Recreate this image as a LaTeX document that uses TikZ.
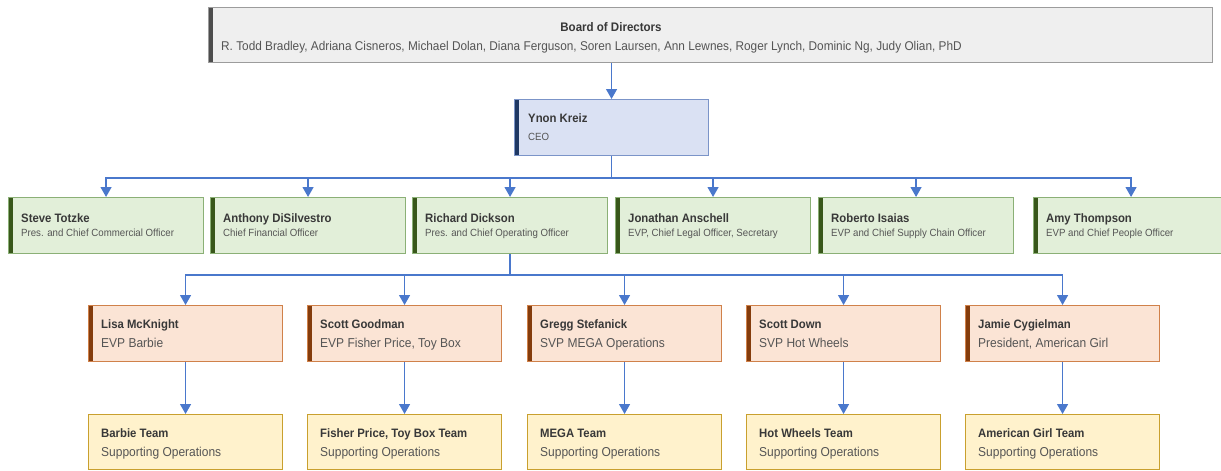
\documentclass[tikz,border=0pt]{standalone}
\usepackage{fontspec}
\setmainfont[FakeStretch=0.93]{Liberation Sans}
\usetikzlibrary{arrows.meta,calc}
\definecolor{conn}{HTML}{4A78CC}
\definecolor{gfill}{HTML}{E2EFD9}
\definecolor{gline}{HTML}{8BB076}
\definecolor{gbar}{HTML}{38571A}
\definecolor{ofill}{HTML}{FBE4D5}
\definecolor{oline}{HTML}{D0814A}
\definecolor{obar}{HTML}{843C0C}
\definecolor{yfill}{HTML}{FFF2CC}
\definecolor{yline}{HTML}{C9A02E}
\definecolor{ybar}{HTML}{7F6000}
\definecolor{bfill}{HTML}{DAE1F3}
\definecolor{bline}{HTML}{7B94C8}
\definecolor{bbar}{HTML}{1F3864}
\definecolor{kfill}{HTML}{EFEFEF}
\definecolor{kline}{HTML}{9C9C9C}
\definecolor{kbar}{HTML}{4D4D4D}
\definecolor{nametext}{HTML}{383838}
\definecolor{subtext}{HTML}{555555}
\tikzset{
  box/.style={rectangle, anchor=north west, inner sep=0pt, line width=1.1pt,
    minimum height=56pt, minimum width=#1},
  box/.default=195pt,
  barred/.style={path picture={\fill[#1] (path picture bounding box.north west) rectangle ([xshift=4pt]path picture bounding box.south west);}},
  gbox/.style={box=#1, draw=gline, fill=gfill, barred=gbar},
  gbox/.default=195pt,
  obox/.style={box=194pt, draw=oline, fill=ofill, barred=obar},
  ybox/.style={box=194pt, draw=yline, fill=yfill, barred=ybar, minimum height=55pt},
  cbox/.style={box=194pt, draw=bline, fill=bfill, barred=bbar},
  kbox/.style={box=1004pt, draw=kline, fill=kfill, barred=kbar, minimum height=55pt},
  nm/.style={anchor=base west, inner sep=0pt, text=nametext, font=\fontsize{12.2}{14}\selectfont\bfseries},
  sbs/.style={anchor=base west, inner sep=0pt, text=subtext, font=\fontsize{10.4}{12}\selectfont},
  sbl/.style={anchor=base west, inner sep=0pt, text=subtext, font=\fontsize{12.9}{15}\selectfont},
  line/.style={draw=conn, line width=1.4pt},
  arr/.style={line, -{Triangle[width=11pt,length=10pt]}},
}
\begin{document}
\begin{tikzpicture}[x=1pt,y=-1pt]
\useasboundingbox (0,0) rectangle (1221,471);
% Board
\node[kbox] (board) at (208,7) {};
\node[anchor=base, inner sep=0pt, text=nametext, font=\fontsize{12.4}{14}\selectfont\bfseries] (boardt) at (611,31) {Board of Directors};
\node[anchor=base west, inner sep=0pt, text=subtext, font=\fontsize{12.7}{15}\selectfont] (boards) at (221,50) {R. Todd Bradley, Adriana Cisneros, Michael Dolan, Diana Ferguson, Soren Laursen, Ann Lewnes, Roger Lynch, Dominic Ng, Judy Olian, PhD};
% CEO
\node[cbox] (ceo) at (514,99) {};
\node[nm] (ceon) at ($(ceo.north west)+(14,23)$) {Ynon Kreiz};
\node[sbs] (ceos) at ($(ceo.north west)+(14,41)$) {CEO};
% Green row
\foreach \i/\x/\n/\t in {1/8/Steve Totzke/Pres. and Chief Commercial Officer,
  2/210/Anthony DiSilvestro/Chief Financial Officer,
  3/412/Richard Dickson/Pres. and Chief Operating Officer,
  4/615/Jonathan Anschell/{EVP, Chief Legal Officer, Secretary},
  5/818/Roberto Isaias/EVP and Chief Supply Chain Officer,
  6/1033/Amy Thompson/EVP and Chief People Officer}{
  \node[gbox] (g\i) at (\x,197) {};
  \node[nm] (g\i n) at ($(g\i.north west)+(13,25)$) {\n};
  \node[sbs] (g\i s) at ($(g\i.north west)+(13,39)$) {\t};
}
% Orange row
\foreach \i/\x/\n/\t in {1/88/Lisa McKnight/EVP Barbie,
  2/307/Scott Goodman/{EVP Fisher Price, Toy Box},
  3/527/Gregg Stefanick/SVP MEGA Operations,
  4/746/Scott Down/SVP Hot Wheels,
  5/965/Jamie Cygielman/{President, American Girl}}{
  \node[obox] (o\i) at (\x,305) {};
  \node[nm] (o\i n) at ($(o\i.north west)+(13,23)$) {\n};
  \node[sbl] (o\i s) at ($(o\i.north west)+(13,42)$) {\t};
}
% Yellow row
\foreach \i/\x/\n in {1/88/Barbie Team,
  2/307/{Fisher Price, Toy Box Team},
  3/527/MEGA Team,
  4/746/Hot Wheels Team,
  5/965/American Girl Team}{
  \node[ybox] (y\i) at (\x,414) {};
  \node[nm] (y\i n) at ($(y\i.north west)+(13,23)$) {\n};
  \node[sbl] (y\i s) at ($(y\i.north west)+(13,42)$) {Supporting Operations};
}
% Connectors
\draw[arr] (board.south -| ceo.north) -- (ceo.north);
\coordinate (bus1) at ($(ceo.south)+(0,22)$);
\draw[line] (ceo.south) -- (bus1);
\foreach \i in {1,...,6}{\draw[arr] (bus1) -| (g\i.north);}
\coordinate (bus2) at ($(g3.south)+(0,21)$);
\draw[line] (g3.south) -- (bus2);
\foreach \i in {1,...,5}{\draw[arr] (bus2) -| (o\i.north);}
\foreach \i in {1,...,5}{\draw[arr] (o\i.south) -- (y\i.north);}
\end{tikzpicture}
\end{document}
